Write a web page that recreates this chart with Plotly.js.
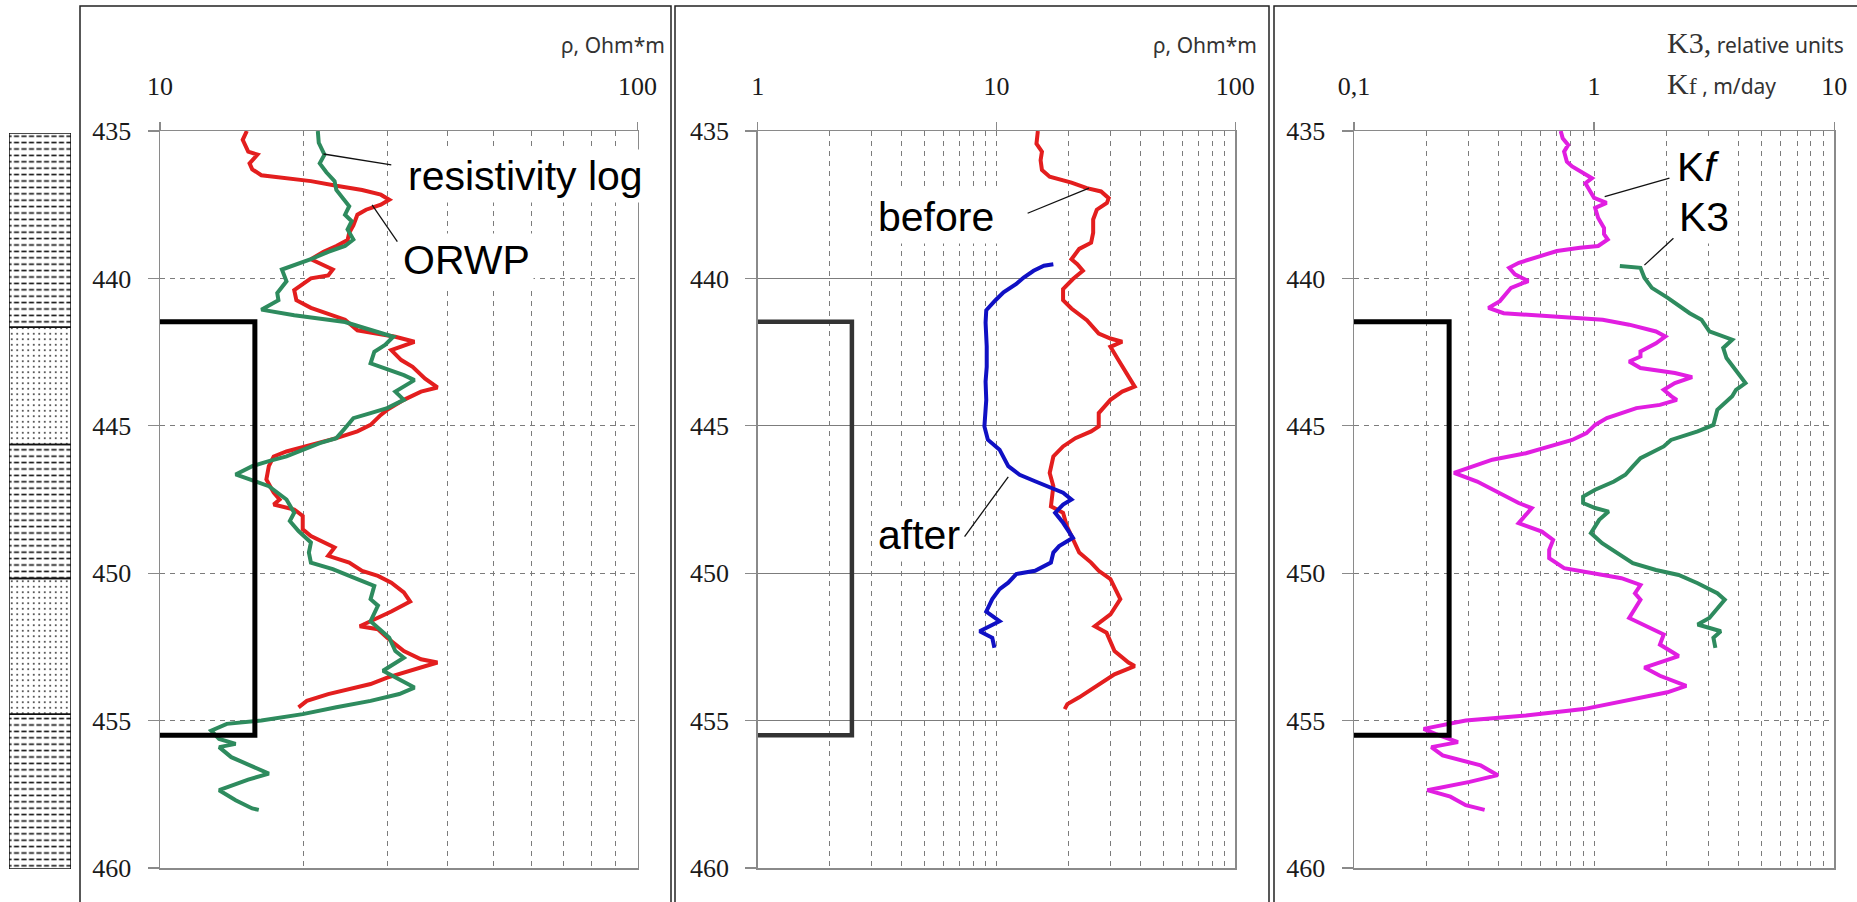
<!DOCTYPE html>
<html>
<head>
<meta charset="utf-8">
<script src="https://cdn.plot.ly/plotly-3.0.1.min.js"></script>
<style>
  html, body { margin: 0; padding: 0; background: #fff; }
  #chart { width: 1857px; height: 902px; }
</style>
</head>
<body>
<div id="chart"></div>
<script>
// ---- Lithology column (depth boundaries, m) ----
const lithoBounds = [435, 441.6, 445.58, 450.13, 454.74, 460];
const lithoTypes  = ['shale', 'sand', 'shale', 'sand', 'shale'];

// ---- Screened interval ----
const intervalTop = 441.47;
const intervalBottom = 455.5;
const intervalReach1 = 15.8;   // Ohm*m, track 1
const intervalReach2 = 2.48;   // Ohm*m, track 2
const intervalReach3 = 0.249;  // track 3

// ---- Track 1: resistivity log and ORWP ----
const resLogDepth = [435.0,435.4,435.8,436.1,436.4,436.7,437.0,437.3,437.55,437.84,438.06,438.34,438.68,438.9,439.1,439.35,439.57,439.7,440.1,440.5,440.74,441.06,441.25,441.48,441.7,441.98,442.26,442.49,442.88,443.05,443.28,443.45,443.67,443.84,444.12,444.4,444.57,444.74,445.08,445.42,445.59,445.81,446.04,446.2,446.37,446.65,446.82,447.05,447.5,447.95,448.23,448.57,448.96,449.3,449.64,449.86,450.2,450.43,450.88,451.1,451.63,451.85,452.19,452.64,452.87,453.31,453.54,453.88,454.1,454.33,454.55,454.78,455.0,455.11,455.34,455.62,455.79,455.9,456.24,456.57,456.8,457.0,457.36,457.7,457.98,458.03];
const resLogRho   = [21.4,21.5,22.1,21.6,22.3,23.2,23.4,24.2,24.9,24.4,25.2,24.7,25.4,24.4,22.5,20.7,19.1,18.0,18.4,17.6,17.7,16.3,19.1,24.4,27.0,30.8,29.6,28.1,27.6,29.6,32.4,34.1,32.4,31.1,32.4,29.9,27.6,25.4,24.4,23.4,21.6,19.9,18.4,16.9,15.6,14.4,15.5,16.9,18.4,19.1,18.7,19.5,20.7,20.5,20.7,23.0,25.9,28.1,27.6,28.6,27.6,28.6,30.2,31.1,32.4,29.3,31.1,34.1,31.7,27.6,23.4,19.9,16.3,13.8,12.8,13.3,14.4,13.3,14.1,15.6,16.9,15.3,13.3,14.4,15.6,16.1];

const orwpDepth = [435.0,435.3,435.7,435.8,436.1,436.3,436.5,436.6,436.7,436.86,437.0,437.16,437.33,437.5,437.67,437.84,438.2,438.45,438.7,438.9,439.1,439.35,439.5,439.7,439.9,440.0,440.4,440.74,441.0,441.4,441.76,441.98,442.15,442.43,442.77,443.0,443.4,443.7,443.84,444.12,444.46,444.63,444.97,445.19,445.42,445.53,445.7,445.87,446.04,446.37,446.82,447.27,447.5,447.67,447.84,448.06,448.51,448.74,449.13,449.41,449.64,449.92,450.09,450.32,450.65,450.96,451.3,451.52,451.8,451.9,452.19,452.64,452.92,453.03,453.2,453.37,453.54,453.76,453.93,454.1,454.33,454.55];
const orwpRho   = [15.2,14.9,15.3,16.0,15.4,15.6,16.3,18.4,20.7,23.4,26.5,29.0,30.2,29.0,27.0,25.9,25.4,24.9,24.7,23.4,22.0,20.7,21.6,23.0,22.5,20.7,19.1,19.3,20.7,24.4,25.9,31.1,34.1,30.5,32.0,33.8,35.9,38.1,35.2,32.4,29.9,29.0,27.6,25.9,23.4,22.0,19.9,18.4,17.3,16.9,16.7,17.3,17.8,17.3,19.1,19.9,19.9,20.7,23.2,22.5,24.9,26.5,28.6,30.5,32.4,33.4,30.5,28.6,26.2,28.6,29.9,32.4,35.2,38.1,35.2,32.4,29.9,27.6,24.9,22.5,20.3,19.5];

// ---- Track 2: resistivity before and after ----
const beforeDepth = [435.0,435.43,435.7,435.99,436.32,436.55,436.75,436.94,437.05,437.28,437.44,437.67,438.0,438.45,438.79,439.0,439.35,439.52,439.74,440.02,440.36,440.74,441.02,441.42,441.87,442.04,442.15,442.32,442.77,443.22,443.67,443.84,444.12,444.57,445.02,445.19,445.42,445.7,446.04,446.6,447.05,447.73,447.95,448.4,448.85,449.3,449.64,449.92,450.2,450.88,451.4,451.8,452.02,452.64,453.03,453.15,453.43,453.88,454.21,454.44,454.61];
const beforeRho   = [14.9,14.7,15.5,15.3,15.5,16.7,20.6,23.9,27.4,29.5,29.0,26.3,25.4,25.4,24.9,22.2,20.6,21.8,23.0,20.9,19.0,19.0,20.6,23.9,26.8,30.0,33.6,30.0,32.4,35.0,37.9,33.6,30.0,26.8,26.8,24.9,21.4,19.0,17.3,16.7,17.3,16.9,19.0,19.7,20.9,22.2,24.9,26.8,30.0,33.0,30.0,25.8,28.9,31.2,35.7,37.9,31.2,25.8,22.2,19.8,19.3];

const afterDepth = [439.52,439.57,439.74,439.97,440.19,440.47,440.74,441.08,441.5,441.87,442.3,443.0,443.5,444.12,444.6,445.02,445.47,445.81,446.37,446.66,446.88,447.1,447.27,447.5,447.67,447.95,448.29,448.8,449.08,449.3,449.64,449.92,450.03,450.32,450.54,450.88,451.3,451.63,451.97,452.19,452.53];
const afterRho   = [17.3,15.8,14.3,13.0,12.1,10.7,9.9,9.06,9.0,9.06,9.1,9.1,9.0,9.06,8.95,8.9,9.2,10.3,11.2,12.5,14.5,16.9,19.0,20.6,19.0,17.6,19.0,20.9,18.3,17.3,16.9,14.5,12.1,11.2,10.3,9.6,9.06,10.3,8.5,9.6,9.8];

// ---- Track 3: Kf (m/day) and K3 (relative units) ----
const kfDepth = [435.0,435.25,435.47,435.7,436.04,436.2,436.49,436.6,436.77,437.05,437.27,437.44,437.61,437.95,438.29,438.5,438.68,438.9,438.96,439.07,439.3,439.47,439.64,439.86,440.09,440.32,440.77,441.0,441.18,441.29,441.4,441.57,441.8,441.97,442.2,442.48,442.65,442.82,443.04,443.21,443.35,443.55,443.78,444.0,444.12,444.29,444.4,444.74,444.97,445.25,445.48,445.7,445.93,446.15,446.6,446.89,447.23,447.62,447.79,448.3,448.59,448.87,449.21,449.49,449.83,450.0,450.17,450.4,450.68,450.9,451.52,452.08,452.42,452.81,453.2,453.48,453.82,454.04,454.33,454.61,454.83,455.0,455.28,455.45,455.73,455.9,456.18,456.52,456.85,457.08,457.36,457.58,457.87,458.03];
const kfValue = [0.726,0.74,0.78,0.75,0.77,0.81,0.93,0.98,0.92,0.97,1.0,1.127,1.01,1.04,1.1,1.1,1.14,1.04,0.873,0.70,0.563,0.486,0.443,0.468,0.532,0.451,0.405,0.363,0.42,0.653,1.086,1.40,1.81,1.98,1.81,1.56,1.56,1.40,1.56,2.17,2.56,2.17,1.95,2.1,2.21,1.88,1.5,1.13,1.01,0.93,0.81,0.653,0.52,0.377,0.261,0.326,0.39,0.485,0.55,0.485,0.606,0.675,0.65,0.65,0.75,1.01,1.30,1.56,1.48,1.56,1.40,1.95,1.88,2.25,1.62,1.88,2.42,2.02,1.35,0.905,0.52,0.292,0.195,0.218,0.271,0.21,0.234,0.337,0.397,0.303,0.202,0.252,0.292,0.35];

const k3Depth = [439.58,439.64,439.98,440.32,440.65,441.18,441.4,441.8,442.08,442.36,442.7,443.1,443.55,443.78,444.0,444.46,444.97,445.19,445.48,445.7,446.1,446.38,446.66,446.89,447.17,447.4,447.62,447.79,447.91,448.19,448.64,448.98,449.32,449.66,449.89,450.06,450.34,450.68,450.9,451.52,451.74,451.97,452.19,452.53];
const k3Value = [1.28,1.56,1.62,1.74,2.02,2.5,2.8,3.02,3.76,3.45,3.56,3.9,4.27,3.9,3.76,3.26,3.14,2.7,2.09,1.95,1.56,1.45,1.35,1.21,1.01,0.9,0.9,1.01,1.15,1.05,0.97,1.08,1.26,1.45,1.81,2.25,2.7,3.26,3.5,3.02,2.7,3.37,3.14,3.2];

// ---- Axis ticks ----
const depthTicks = [435, 440, 445, 450, 455, 460];
const rhoTicks1 = [10, 100];
const rhoTicks2 = [1, 10, 100];
const kTicks = [0.1, 1, 10];
const kTickText = ['0,1', '1', '10'];
const minor1 = [20, 30, 40, 50, 60, 70, 80, 90];
const minor2 = [2, 3, 4, 5, 6, 7, 8, 9, 20, 30, 40, 50, 60, 70, 80, 90];
const minor3 = [0.2, 0.3, 0.4, 0.5, 0.6, 0.7, 0.8, 0.9, 2, 3, 4, 5, 6, 7, 8, 9];

// ---- Page geometry helpers ----
const W = 1857, H = 902;
const fx = v => v / W;
const fy = v => 1 - v / H;
const yDom = [fy(868), fy(131)];

const RED = '#e31e1e', GREEN = '#2e8b5e', BLUE = '#1010c4', MAGENTA = '#e11ee1';
const BOX = '#8a8a8a', GRID = '#7c7c7c';
const SERIF = 'Liberation Serif, Times New Roman, serif';
const SANS = 'Liberation Sans, Arial, sans-serif';

function curve(x, y, color, xa, ya) {
  return { type: 'scatter', mode: 'lines', x: x, y: y, xaxis: xa, yaxis: ya,
    line: { color: color, width: 4 }, hoverinfo: 'skip', showlegend: false };
}
function bracket(left, reach, color, width, xa, ya) {
  return { type: 'scatter', mode: 'lines',
    x: [left, reach, reach, left], y: [intervalTop, intervalTop, intervalBottom, intervalBottom],
    xaxis: xa, yaxis: ya, cliponaxis: false,
    line: { color: color, width: width }, hoverinfo: 'skip', showlegend: false };
}
function leader(x, y, xa, ya) {
  return { type: 'scatter', mode: 'lines', x: x, y: y, xaxis: xa, yaxis: ya,
    line: { color: '#111', width: 1.3 }, hoverinfo: 'skip', showlegend: false };
}

// lithology bars
const shaleBase = [], shaleThick = [], sandBase = [], sandThick = [];
lithoTypes.forEach((t, i) => {
  const b = lithoBounds[i], h = lithoBounds[i + 1] - lithoBounds[i];
  if (t === 'shale') { shaleBase.push(b); shaleThick.push(h); }
  else { sandBase.push(b); sandThick.push(h); }
});
const allBase = lithoBounds.slice(0, -1);
const allThick = allBase.map((b, i) => lithoBounds[i + 1] - b);

const traces = [
  { type: 'bar', x: shaleBase.map(() => 0.5), y: shaleThick, base: shaleBase, width: 1,
    xaxis: 'x4', yaxis: 'y4', hoverinfo: 'skip', showlegend: false,
    marker: { color: 'white', line: { width: 0 },
      pattern: { shape: '-', fgcolor: '#111', bgcolor: 'white', size: 6.4, solidity: 0.25 } } },
  { type: 'bar', x: shaleBase.map(() => 0.5), y: shaleThick, base: shaleBase, width: 1,
    xaxis: 'x4', yaxis: 'y4', hoverinfo: 'skip', showlegend: false,
    marker: { color: 'rgba(0,0,0,0)', line: { width: 0 },
      pattern: { shape: '|', fgcolor: 'white', bgcolor: 'rgba(0,0,0,0)', size: 7.5, solidity: 0.32 } } },
  { type: 'bar', x: sandBase.map(() => 0.5), y: sandThick, base: sandBase, width: 1,
    xaxis: 'x4', yaxis: 'y4', hoverinfo: 'skip', showlegend: false,
    marker: { color: 'white', line: { width: 0 },
      pattern: { shape: '.', fgcolor: '#222', bgcolor: 'white', size: 5.5, solidity: 0.09 } } },
  { type: 'bar', x: allBase.map(() => 0.5), y: allThick, base: allBase, width: 1,
    xaxis: 'x4', yaxis: 'y4', hoverinfo: 'skip', showlegend: false,
    marker: { color: 'rgba(0,0,0,0)', line: { color: '#111', width: 1.5 } } },

  // track 1
  curve(orwpRho, orwpDepth, RED, 'x', 'y'),
  curve(resLogRho, resLogDepth, GREEN, 'x', 'y'),
  bracket(10, intervalReach1, '#000', 5, 'x', 'y'),
  leader([22.0, 30.5], [435.78, 436.15], 'x', 'y'),
  leader([27.8, 31.4], [437.51, 438.75], 'x', 'y'),

  // track 2
  curve(beforeRho, beforeDepth, RED, 'x2', 'y2'),
  curve(afterRho, afterDepth, BLUE, 'x2', 'y2'),
  bracket(1, intervalReach2, '#333', 4.5, 'x2', 'y2'),
  leader([13.5, 24.4], [437.79, 436.94], 'x2', 'y2'),
  leader([7.35, 11.2], [448.76, 446.73], 'x2', 'y2'),

  // track 3
  curve(kfValue, kfDepth, MAGENTA, 'x3', 'y3'),
  curve(k3Value, k3Depth, GREEN, 'x3', 'y3'),
  bracket(0.1, intervalReach3, '#000', 5, 'x3', 'y3'),
  leader([1.107, 2.06], [437.23, 436.6], 'x3', 'y3'),
  leader([1.62, 2.14], [439.55, 438.64], 'x3', 'y3')
];

function xAxis(domain, range, vals, text, minorVals, majorGrid, yRef) {
  return {
    type: 'log', domain: domain, range: range, anchor: yRef, side: 'top',
    tickmode: 'array', tickvals: vals, ticktext: text,
    ticks: 'outside', ticklen: 8, tickwidth: 1.2, tickcolor: BOX,
    tickfont: { family: SERIF, size: 26, color: '#1a1a1a' }, ticklabelstandoff: 16,
    showline: true, mirror: true, linecolor: BOX, linewidth: 1.5,
    showgrid: majorGrid, gridcolor: GRID, gridwidth: 1, griddash: '5px,5px',
    minor: { tickmode: 'array', tickvals: minorVals, ticks: '', showgrid: true,
             gridcolor: GRID, gridwidth: 1, griddash: '5px,5px' },
    zeroline: false, fixedrange: true
  };
}
function yAxis(xRef, dash) {
  return {
    domain: yDom, range: [460, 435], anchor: xRef,
    tickmode: 'array', tickvals: depthTicks,
    ticks: 'outside', ticklen: 11, tickwidth: 1.2, tickcolor: BOX,
    tickfont: { family: SERIF, size: 26, color: '#1a1a1a' }, ticklabelstandoff: 11,
    showline: true, mirror: true, linecolor: BOX, linewidth: 1.5,
    showgrid: true, gridcolor: GRID, gridwidth: 1, griddash: dash,
    zeroline: false, fixedrange: true
  };
}

function label(text, xa, ya, logx, depth) {
  return { text: text, xref: xa, yref: ya, x: logx, y: depth,
    xanchor: 'left', yanchor: 'middle', showarrow: false,
    font: { family: SANS, size: 41, color: '#000' },
    bgcolor: 'white', borderpad: 3 };
}

const headerFont = { family: 'Noto Sans, Open Sans, sans-serif', size: 21, color: '#333' };

const layout = {
  width: W, height: H, margin: { l: 0, r: 0, t: 0, b: 0 },
  paper_bgcolor: 'white', plot_bgcolor: 'white',
  showlegend: false, barmode: 'overlay', bargap: 0,
  xaxis:  xAxis([fx(160), fx(637.6)], [1, 2], rhoTicks1, ['10', '100'], minor1, false, 'y'),
  xaxis2: xAxis([fx(757.7), fx(1235.3)], [0, 2], rhoTicks2, ['1', '10', '100'], minor2, true, 'y2'),
  xaxis3: xAxis([fx(1354), fx(1834.2)], [-1, 1], kTicks, kTickText, minor3, true, 'y3'),
  yaxis:  yAxis('x', '5px,5px'),
  yaxis2: yAxis('x2', 'solid'),
  yaxis3: yAxis('x3', '5px,5px'),
  xaxis4: { domain: [fx(9), fx(71)], range: [0, 1], visible: false, anchor: 'y4', fixedrange: true },
  yaxis4: { domain: [fy(869), fy(133)], range: [460, 435], visible: false, anchor: 'x4', fixedrange: true },
  shapes: [
    { type: 'rect', xref: 'paper', yref: 'paper', x0: fx(80), x1: fx(671), y0: -0.1, y1: fy(6),
      line: { color: '#222', width: 1.5 }, layer: 'below' },
    { type: 'rect', xref: 'paper', yref: 'paper', x0: fx(675), x1: fx(1269), y0: -0.1, y1: fy(6),
      line: { color: '#222', width: 1.5 }, layer: 'below' },
    { type: 'rect', xref: 'paper', yref: 'paper', x0: fx(1274), x1: 1.02, y0: -0.1, y1: fy(6),
      line: { color: '#222', width: 1.5 }, layer: 'below' }
  ],
  annotations: [
    label('resistivity log', 'x', 'y', 1.5105, 436.53),
    label('ORWP', 'x', 'y', 1.5, 439.38),
    label('before', 'x2', 'y2', 0.485, 437.92),
    label('after', 'x2', 'y2', 0.485, 448.7),
    label('K<i>f</i>', 'x3', 'y3', 0.329, 436.22),
    label('K3', 'x3', 'y3', 0.3375, 437.92),
    { text: 'ρ, Ohm*m', xref: 'paper', yref: 'paper', x: fx(667), y: fy(45),
      xanchor: 'right', yanchor: 'middle', showarrow: false, font: headerFont },
    { text: 'ρ, Ohm*m', xref: 'paper', yref: 'paper', x: fx(1259), y: fy(45),
      xanchor: 'right', yanchor: 'middle', showarrow: false, font: headerFont },
    { text: '<span style="font-family:Liberation Serif;font-size:30px">K3,</span> relative units',
      xref: 'paper', yref: 'paper', x: fx(1665), y: fy(43),
      xanchor: 'left', yanchor: 'middle', showarrow: false, font: headerFont },
    { text: '<span style="font-family:Liberation Serif;font-size:30px">K</span><span style="font-family:Liberation Serif;font-size:24px">f</span> , m/day',
      xref: 'paper', yref: 'paper', x: fx(1665), y: fy(83),
      xanchor: 'left', yanchor: 'middle', showarrow: false, font: headerFont }
  ]
};

Plotly.newPlot('chart', traces, layout, { displayModeBar: false, staticPlot: true });
</script>
</body>
</html>
